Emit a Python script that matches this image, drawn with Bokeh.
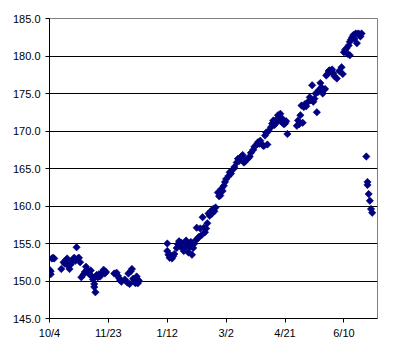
from bokeh.plotting import figure
from bokeh.models import FixedTicker, NumeralTickFormatter, Range1d
from bokeh.embed import file_html
from bokeh.resources import INLINE

# day offsets from 10/4 and measured values
days = [0, 0, 1, 1, 2, 3, 4,
        10, 12, 13, 14, 15, 15, 16, 17, 18, 19, 20, 21, 22, 23, 24, 25, 26, 27, 29, 30,
        31, 32, 33, 34, 35, 36, 37, 38, 38, 39, 40, 41, 42, 43, 44, 45, 46, 47, 48,
        55, 57, 58, 59, 60, 61, 64, 66, 67, 68, 69, 70, 71, 72, 73, 74, 75, 75, 76,
        100, 100, 101, 102, 103, 104, 105, 106, 108, 109, 110, 111, 112, 113, 114, 115,
        116, 117, 118, 119, 120, 121, 122, 123, 124, 125, 126, 127, 128, 129, 130, 131,
        132, 133, 134, 135, 136, 137, 138, 139, 140, 141,
        143, 144, 145, 146, 147, 148, 149, 150, 152, 153, 154, 156, 157, 159, 160, 161,
        163, 164, 165, 166, 167, 169, 170, 171, 173, 174, 176, 177, 178, 179, 181, 182,
        183, 184, 185, 186, 188,
        189, 190, 191, 192, 193, 194, 195, 196, 197, 198, 199, 200, 201, 202,
        210, 211, 212, 213, 214, 215, 216, 217, 218, 219, 221, 222, 223, 224, 225, 226,
        227, 228, 229, 230, 231, 232, 234, 235, 236, 237, 238, 239, 240, 241, 242, 244,
        246, 248, 249,
        250, 251, 252, 253, 254, 255, 255, 256, 257, 258, 259, 260, 261, 262, 263, 264, 265,
        269, 270, 270, 271, 272, 273, 274]
values = [151.5, 151.0, 150.9, 151.3, 153.0, 153.1, 153.0,
          151.6, 152.5, 152.3, 152.8, 153.0, 152.2, 152.0, 151.6, 152.2, 152.6, 152.9, 153.1, 152.7, 154.5, 153.0, 153.1, 152.5, 150.5, 150.9, 151.2,
          151.9, 151.5, 151.1, 150.9, 151.4, 150.6, 150.2, 149.6, 149.2, 148.5, 150.8, 150.5, 150.9, 150.6, 151.0, 151.2, 151.5, 151.0, 151.2,
          151.0, 151.1, 150.7, 150.4, 150.1, 149.9, 150.2, 149.8, 151.0, 149.6, 151.3, 151.6, 150.3, 150.0, 149.7, 150.6, 150.2, 149.7, 150.0,
          155.0, 154.0, 153.5, 153.1, 153.4, 153.0, 153.3, 153.6, 154.4, 154.9, 155.3, 154.6, 155.1, 154.5, 154.0, 154.4,
          155.4, 154.8, 153.8, 154.5, 155.2, 153.5, 154.4, 155.0, 155.4, 157.1, 155.7, 155.9, 157.0, 156.1, 158.5, 157.1,
          156.5, 157.0, 157.7, 159.0, 158.7, 159.3, 159.0, 159.6, 159.3, 159.8,
          161.8, 161.3, 161.4, 162.3, 162.0, 162.7, 163.2, 163.6, 164.0, 164.5, 164.3, 164.9, 165.2, 165.8, 166.3, 166.0,
          166.6, 166.8, 165.8, 165.9, 166.2, 166.4, 166.6, 167.1, 167.5, 167.9, 168.2, 168.5, 168.3, 168.7, 168.1, 168.0,
          169.4, 169.8, 168.2, 170.0, 170.5,
          171.0, 171.4, 170.8, 171.0, 171.6, 172.1, 171.5, 172.3, 171.2, 171.6, 170.9, 171.0, 171.3, 169.6,
          170.7, 171.4, 170.9, 172.1, 173.4, 171.1, 173.2, 173.6, 173.3, 173.8, 174.5, 174.1, 176.1, 173.9, 174.3, 175.0,
          172.5, 175.2, 175.5, 176.4, 175.8, 175.0, 175.6, 177.4, 177.6, 178.0, 178.1, 177.9, 178.2, 177.7, 177.3, 177.0,
          178.0, 178.5, 177.6,
          180.5, 180.8, 181.0, 180.3, 181.4, 181.9, 180.1, 182.2, 182.5, 182.8, 182.3, 183.0, 181.7, 183.0, 182.9, 182.6, 183.0,
          166.6, 163.2, 162.8, 161.6, 160.7, 159.6, 159.1]

x_tick_days = [0, 50, 100, 150, 200, 250]
x_tick_labels = ["10/4", "11/23", "1/12", "3/2", "4/21", "6/10"]
y_ticks = [145, 150, 155, 160, 165, 170, 175, 180, 185]

FONT = "Liberation Sans"

p = figure(width=400, height=350, output_backend="svg", toolbar_location=None,
           x_range=Range1d(0, 278.5), y_range=Range1d(145, 185),
           min_border_left=49, min_border_right=23, min_border_top=18,
           min_border_bottom=32)
p.background_fill_color = "white"
p.border_fill_color = "white"
p.outline_line_color = "#808080"
p.outline_line_width = 1

p.xgrid.visible = False
p.ygrid.grid_line_color = "black"
p.ygrid.grid_line_width = 1

p.xaxis.ticker = FixedTicker(ticks=x_tick_days)
p.xaxis.major_label_overrides = {d: lab for d, lab in zip(x_tick_days, x_tick_labels)}
p.yaxis.ticker = FixedTicker(ticks=y_ticks)
p.yaxis.formatter = NumeralTickFormatter(format="0.0")

for ax in (p.xaxis[0], p.yaxis[0]):
    ax.axis_line_color = "black"
    ax.major_tick_line_color = "black"
    ax.major_tick_out = 4
    ax.major_tick_in = 0
    ax.minor_tick_line_color = None
    ax.major_label_text_font = FONT
    ax.major_label_text_font_size = "11px"
    ax.major_label_text_color = "black"
p.yaxis.major_label_standoff = 5
p.xaxis.major_label_standoff = 4

p.scatter(days, values, marker="square", angle=0.785398, size=5.2,
          fill_color="#000080", line_color="#000080", line_width=0.6)

open("out.html", "w").write(file_html(p, INLINE))
